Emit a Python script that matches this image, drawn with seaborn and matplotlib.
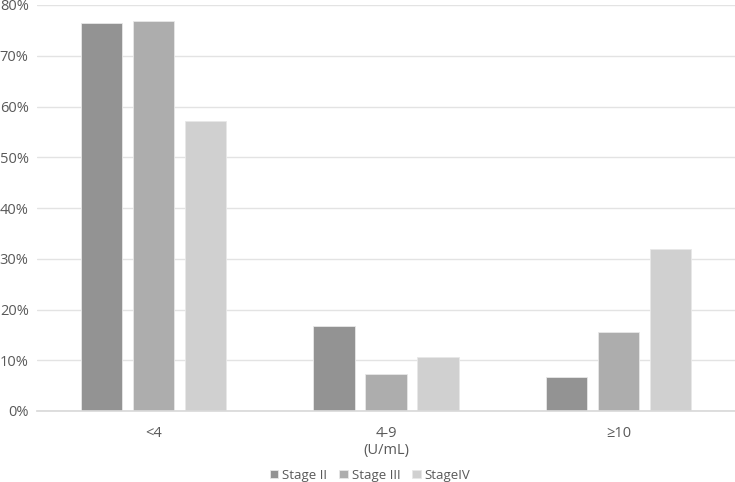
import pandas as pd
import matplotlib.pyplot as plt
import seaborn as sns
from matplotlib.ticker import PercentFormatter

# Values (percent of patients)
categories = ['<4', '4-9\n(U/mL)', '≥10']
stages = ['Stage II', 'Stage III', 'StageIV']
stage2 = [76.4, 16.7, 6.7]
stage3 = [76.8, 7.3, 15.5]
stage4 = [57.2, 10.6, 31.9]

df = pd.DataFrame({
    'level': categories * 3,
    'stage': [stages[0]] * 3 + [stages[1]] * 3 + [stages[2]] * 3,
    'pct': stage2 + stage3 + stage4,
})

sns.set_theme(style='white')
plt.rcParams['font.family'] = ['Open Sans', 'DejaVu Sans']
txt = '#595959'

fig = plt.figure(figsize=(7.35, 4.82), dpi=100)
ax = fig.add_axes([37 / 735, 1 - 411 / 482, 1 - 37 / 735, (411 - 5) / 482])

palette = ['#939393', '#adadad', '#d0d0d0']
sns.barplot(data=df, x='level', y='pct', hue='stage', palette=palette,
            width=0.67, gap=0.2, edgecolor='#e8e8e8', linewidth=0.6,
            ax=ax, legend=True, zorder=3)

ax.set_xlim(-0.5, 2.5)
ax.set_ylim(0, 80)
ax.set_yticks(range(0, 81, 10))
ax.yaxis.set_major_formatter(PercentFormatter(decimals=0))
ax.grid(axis='y', color='#e3e3e3', linewidth=1, zorder=0)
ax.set_axisbelow(True)
for s in ['top', 'right', 'left']:
    ax.spines[s].set_visible(False)
ax.spines['bottom'].set_color('#d9d9d9')
ax.spines['bottom'].set_zorder(4)
ax.tick_params(axis='both', length=0, colors=txt, labelsize=10.5)
ax.tick_params(axis='x', pad=11)
ax.tick_params(axis='y', pad=6)
ax.set_xlabel('')
ax.set_ylabel('')

handles, labels = ax.get_legend_handles_labels()
ax.legend(handles, labels, loc='center', bbox_to_anchor=(0.477, -0.158),
          bbox_transform=ax.transAxes, ncol=3, frameon=False,
          fontsize=9.5, labelcolor=txt, handlelength=0.65, handleheight=0.65,
          handletextpad=0.3, columnspacing=0.9, borderaxespad=0, borderpad=0)

fig.savefig('out.png', dpi=100)
